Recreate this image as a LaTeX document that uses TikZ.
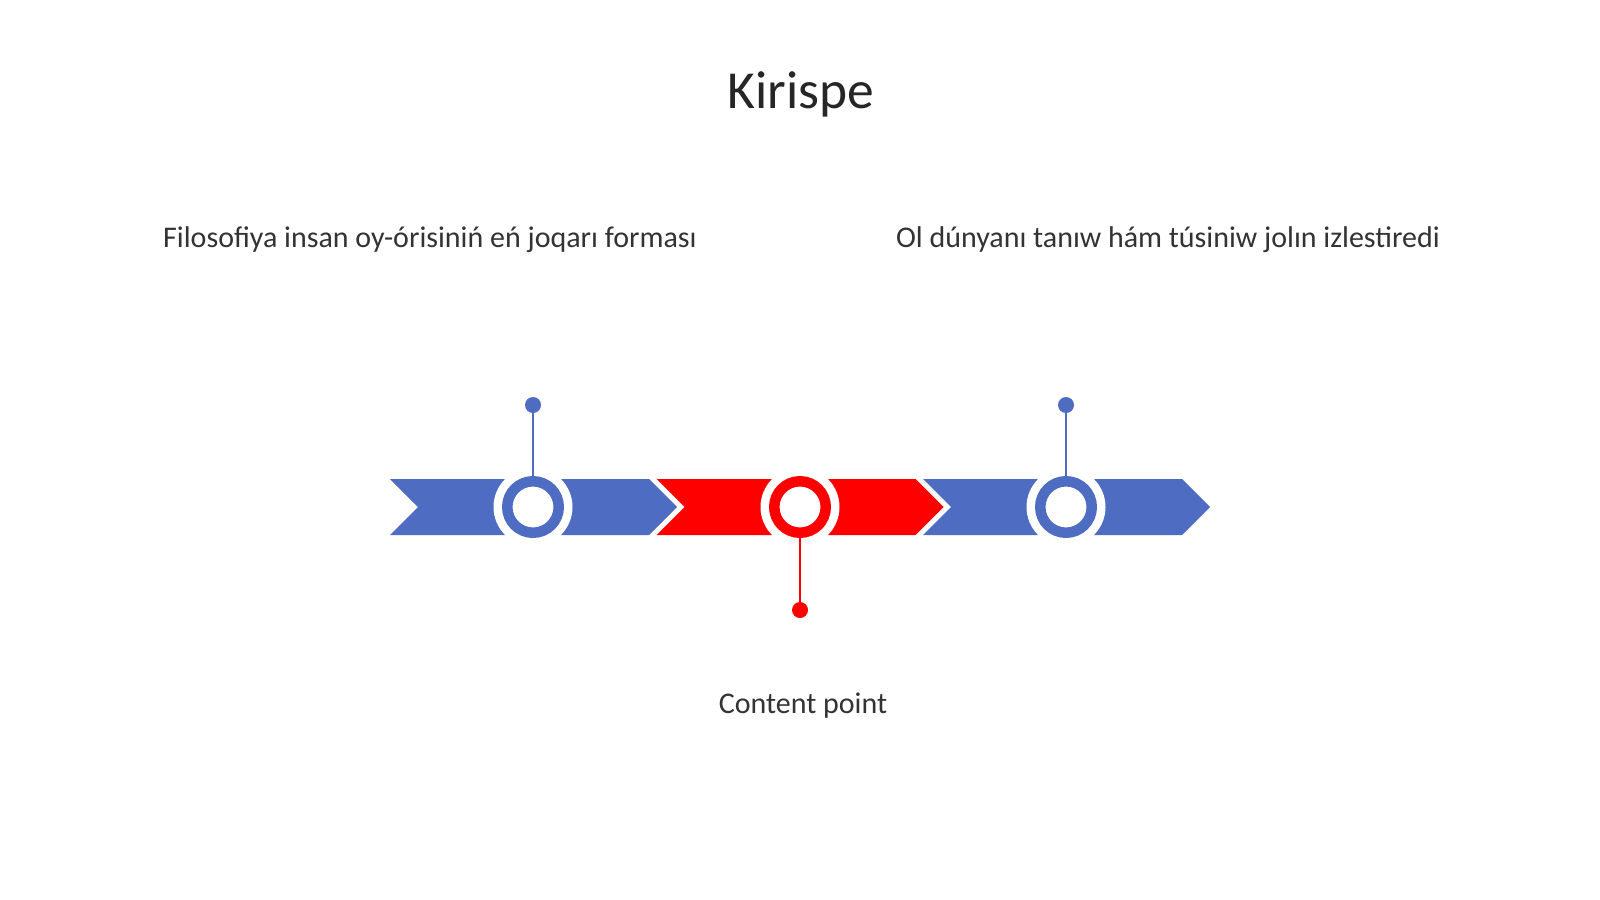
\documentclass[tikz,border=0pt]{standalone}
\usepackage{fontspec}
\setmainfont{Carlito}
\definecolor{cblue}{HTML}{4D6CC2}
\definecolor{cred}{HTML}{FF0000}
\definecolor{ctext}{HTML}{333333}
\definecolor{ctitle}{HTML}{262626}
\begin{document}
\begin{tikzpicture}[x=1pt,y=-1pt,
  halo/.style={circle,fill=white,inner sep=0pt,minimum size=79pt},
  ring/.style={circle,draw=#1,fill=white,line width=10.5pt,inner sep=0pt,minimum size=51.5pt},
  dotnode/.style={circle,fill=#1,inner sep=0pt,minimum size=16pt},
  stem/.style={draw=#1,line width=2.6pt},
  lbl/.style={text=ctext,inner sep=0pt,anchor=base,font=\fontsize{30}{36}\selectfont}
]
\useasboundingbox (0,0) rectangle (1600,899);
\fill[white] (0,0) rectangle (1600,899);
% chevrons
\def\W{259}\def\D{28}\def\H{28}
\foreach \L/\c in {390/cblue,656.5/cred,923/cblue}{
  \fill[\c] (\L,507-\H) -- (\L+\W,507-\H) -- (\L+\W+\D,507) -- (\L+\W,507+\H)
     -- (\L,507+\H) -- (\L+\D,507) -- cycle;
}
% halos and rings
\node[halo] (h1) at (533,507) {};
\node[halo] (h2) at (800,507) {};
\node[halo] (h3) at (1066,507) {};
\node[dotnode=cblue] (d1) at (533,405) {};
\node[dotnode=cred] (d2) at (800,610) {};
\node[dotnode=cblue] (d3) at (1066,405) {};
\node[ring=cblue] (c1) at (533,507) {};
\node[ring=cred] (c2) at (800,507) {};
\node[ring=cblue] (c3) at (1066,507) {};
\draw[stem=cblue] (d1) -- (c1);
\draw[stem=cred] (d2) -- (c2);
\draw[stem=cblue] (d3) -- (c3);
% texts
\node[text=ctitle,inner sep=0pt,anchor=base,font=\fontsize{53.5}{62}\selectfont] (title) at (801,108) {Kirispe};
\node[lbl] (t1) at (430,247) {Filosofiya insan oy-órisiniń eń joqarı forması};
\node[lbl] (t2) at (1168,247) {Ol dúnyanı tanıw hám túsiniw jolın izlestiredi};
\node[lbl] (t3) at (803,713) {Content point};
\end{tikzpicture}
\end{document}
